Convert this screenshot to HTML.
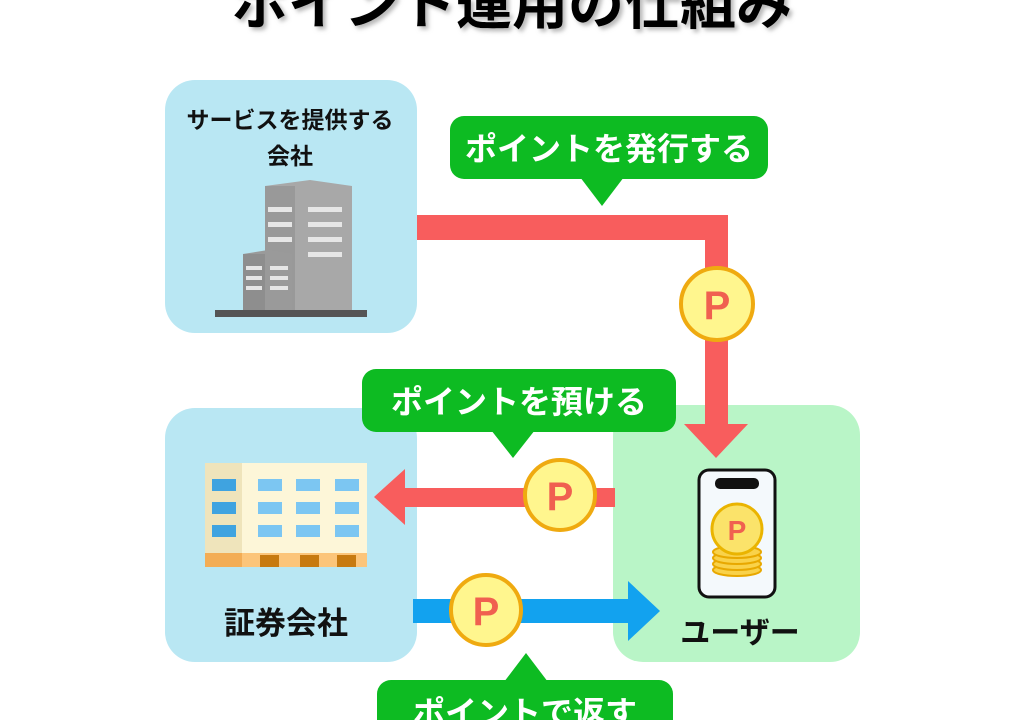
<!DOCTYPE html>
<html><head><meta charset="utf-8"><style>
html,body{margin:0;padding:0;background:#fff;}
body{width:1024px;height:720px;overflow:hidden;position:relative;}
svg{position:absolute;left:0;top:0;}
text{font-family:"Liberation Sans","Noto Sans CJK JP",sans-serif;font-weight:bold;}
</style></head><body>
<svg width="1024" height="720" viewBox="0 0 1024 720">
<defs>
<filter id="sh" x="-10%" y="-50%" width="120%" height="200%"><feDropShadow dx="3" dy="3" stdDeviation="2" flood-color="#888" flood-opacity="0.6"/></filter>
</defs>
<text x="512" y="24" font-size="56" text-anchor="middle" fill="#000" filter="url(#sh)" font-weight="900">ポイント運用の仕組み</text>

<rect x="165" y="80" width="252" height="253" rx="30" fill="#b9e7f3"/>
<rect x="165" y="408" width="252" height="254" rx="30" fill="#b9e7f3"/>
<rect x="613" y="405" width="247" height="257" rx="30" fill="#b9f5c7"/>

<text x="290" y="128" font-size="23" text-anchor="middle" fill="#111">サービスを提供する</text>
<text x="290" y="164" font-size="23" text-anchor="middle" fill="#111">会社</text>
<polygon points="265,186 310,180 352,186 352,310 265,310" fill="#a8a8a8"/>
<rect x="265" y="186" width="30" height="124" fill="#999"/>
<g fill="#e6e6e6">
<rect x="268" y="207" width="24" height="5"/><rect x="268" y="222" width="24" height="5"/><rect x="268" y="237" width="24" height="5"/>
<rect x="308" y="207" width="34" height="5"/><rect x="308" y="222" width="34" height="5"/><rect x="308" y="237" width="34" height="5"/><rect x="308" y="252" width="34" height="5"/>
</g>
<polygon points="243,254 268,250 292,254 292,310 243,310" fill="#9a9a9a"/>
<rect x="243" y="254" width="22" height="56" fill="#8e8e8e"/>
<g fill="#e6e6e6">
<rect x="246" y="266" width="16" height="4"/><rect x="246" y="276" width="16" height="4"/><rect x="246" y="286" width="16" height="4"/>
<rect x="270" y="266" width="18" height="4"/><rect x="270" y="276" width="18" height="4"/><rect x="270" y="286" width="18" height="4"/>
</g>
<rect x="215" y="310" width="152" height="7" fill="#555"/>

<rect x="205" y="463" width="162" height="104" fill="#fdf6d8"/>
<rect x="205" y="463" width="37" height="104" fill="#efe4bb"/>
<g fill="#3fa3e0">
<rect x="212" y="479" width="24" height="12"/><rect x="212" y="502" width="24" height="12"/><rect x="212" y="525" width="24" height="12"/>
</g>
<g fill="#7cc6f2">
<rect x="258" y="479" width="24" height="12"/><rect x="296" y="479" width="24" height="12"/><rect x="335" y="479" width="24" height="12"/>
<rect x="258" y="502" width="24" height="12"/><rect x="296" y="502" width="24" height="12"/><rect x="335" y="502" width="24" height="12"/>
<rect x="258" y="525" width="24" height="12"/><rect x="296" y="525" width="24" height="12"/><rect x="335" y="525" width="24" height="12"/>
</g>
<rect x="205" y="553" width="162" height="14" fill="#fcc57a"/>
<rect x="205" y="553" width="37" height="14" fill="#f3ad55"/>
<g fill="#c77a10"><rect x="260" y="555" width="19" height="12"/><rect x="300" y="555" width="19" height="12"/><rect x="337" y="555" width="19" height="12"/></g>
<text x="286" y="634" font-size="31" text-anchor="middle" fill="#111">証券会社</text>

<rect x="699" y="470" width="76" height="127" rx="10" fill="#f4f9fc" stroke="#111" stroke-width="3"/>
<rect x="715" y="478" width="44" height="11" rx="5" fill="#111"/>
<g fill="#f9d24a" stroke="#e8a800" stroke-width="2">
<ellipse cx="737" cy="570" rx="24" ry="6"/><ellipse cx="737" cy="564" rx="24" ry="6"/><ellipse cx="737" cy="558" rx="24" ry="6"/><ellipse cx="737" cy="552" rx="24" ry="6"/>
</g>
<circle cx="737" cy="529" r="25" fill="#fbe36a" stroke="#eab400" stroke-width="3"/>
<text x="737" y="540" font-size="28" text-anchor="middle" fill="#f06050">P</text>
<text x="740" y="643" font-size="30" text-anchor="middle" fill="#111" font-weight="900">ユーザー</text>

<polygon points="417,215 728,215 728,425 705,425 705,240 417,240" fill="#f85d5d"/>
<polygon points="684,424 748,424 716,458" fill="#f85d5d"/>
<rect x="403" y="488" width="212" height="19" fill="#f85d5d"/>
<polygon points="374,497 405,469 405,525" fill="#f85d5d"/>
<rect x="413" y="599" width="220" height="24" fill="#12a2ef"/>
<polygon points="628,581 660,611 628,641" fill="#12a2ef"/>

<g stroke="#efaa10" stroke-width="4" fill="#fff68e">
<circle cx="717" cy="304" r="36"/><circle cx="560" cy="495" r="35"/><circle cx="486" cy="610" r="35"/>
</g>
<g font-size="40" text-anchor="middle" fill="#f06050">
<text x="717" y="319">P</text><text x="560" y="510">P</text><text x="486" y="625">P</text>
</g>

<g fill="#0dbb22">
<rect x="450" y="116" width="318" height="63" rx="14"/><polygon points="580,177 624,177 602,206"/>
<rect x="362" y="369" width="314" height="63" rx="14"/><polygon points="491,430 535,430 513,458"/>
<rect x="377" y="680" width="296" height="70" rx="14"/><polygon points="504,682 548,682 526,653"/>
</g>
<g font-size="32" text-anchor="middle" fill="#fff">
<text x="609" y="160">ポイントを発行する</text>
<text x="519" y="413">ポイントを預ける</text>
<text x="525" y="724">ポイントで返す</text>
</g>
</svg>
</body></html>
